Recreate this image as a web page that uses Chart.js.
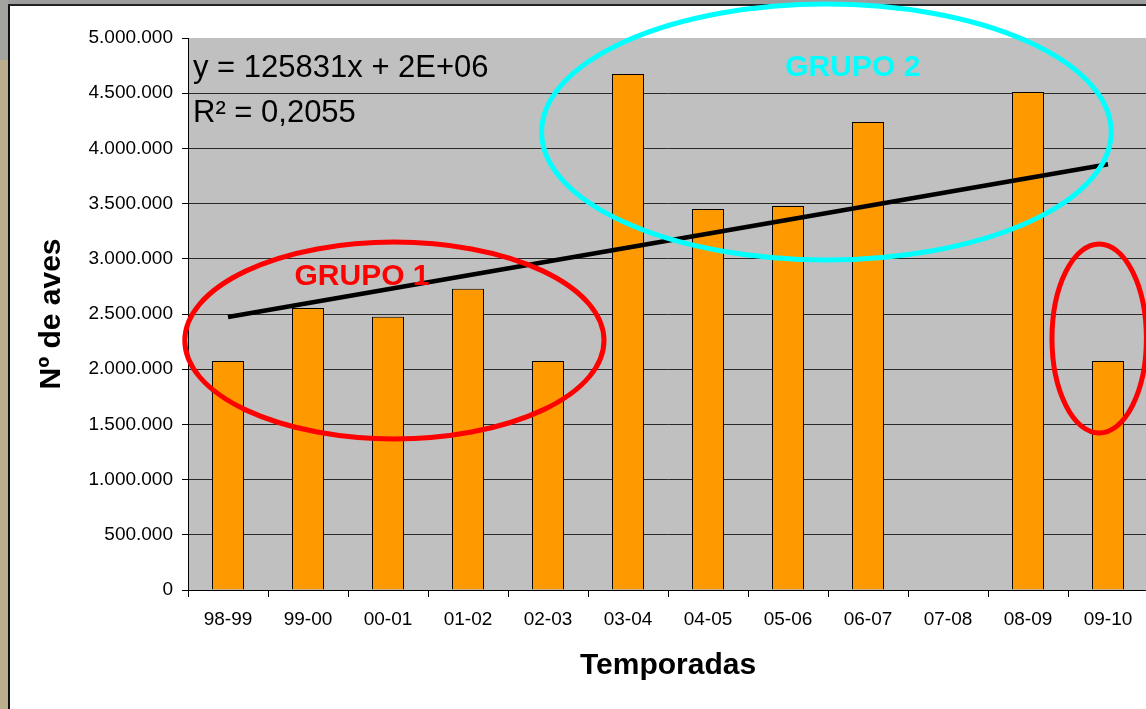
<!DOCTYPE html>
<html>
<head>
<meta charset="utf-8">
<script src="https://cdn.jsdelivr.net/npm/chart.js@4/dist/chart.umd.min.js"></script>
<style>
  html, body { margin: 0; padding: 0; width: 1146px; height: 709px; overflow: hidden; }
  body { background: #bcae8c; position: relative; }
  #topstrip { position: absolute; left: 0; top: 0; width: 1146px; height: 5px; background: #9d9d9d; }
  #leftstrip { position: absolute; left: 0; top: 0; width: 8px; height: 60px; background: #a3a3a0; }
  #frame { position: absolute; left: 8px; top: 4px; width: 1200px; height: 800px; background: #ffffff;
           border-left: 2px solid #111; border-top: 2px solid #222; }
  #wrap { position: absolute; left: 0; top: 0; width: 1150px; height: 709px; }
</style>
</head>
<body>
<div id="topstrip"></div>
<div id="leftstrip"></div>
<div id="frame"></div>
<div id="wrap"><canvas id="c" width="1150" height="709"></canvas></div>
<script>
// ---- data ----
const temporadas = ['98-99','99-00','00-01','01-02','02-03','03-04','04-05','05-06','06-07','07-08','08-09','09-10'];
const nAves = [2075000, 2555000, 2475000, 2728000, 2075000, 4675000, 3452000, 3478000, 4240000, null, 4512000, 2075000];
// linear trend line endpoints (first and last season)
const tendencia = [2473000, null, null, null, null, null, null, null, null, null, null, 3857000];
const yTicksMax = 5000000;
const yTicksStep = 500000;
const ecuacion = 'y = 125831x + 2E+06';
const r2Texto = 'R² = 0,2055';
const xTitulo = 'Temporadas';
const yTitulo = 'Nº de aves';

// decorations (ellipses & group labels) anchored in data units: category index / value
const elipses = [
  { cx: 2.08, cy: 2260000, rx: 2.62, ry: 892000, color: '#ff0000' },
  { cx: 7.48, cy: 4149000, rx: 3.56, ry: 1159000, color: '#00ffff' },
  { cx: 10.89, cy: 2278000, rx: 0.59, ry: 856000, color: '#ff0000' }
];
const grupos = [
  { text: 'GRUPO 1', x: 1.675, y: 2763000, color: '#ff0000' },
  { text: 'GRUPO 2', x: 7.81, y: 4656000, color: '#00ffff' }
];

const FONT = "'Liberation Sans', Arial, sans-serif";

function fmt(v) {
  return String(Math.round(v)).replace(/\B(?=(\d{3})+(?!\d))/g, '.');
}

const plotBg = {
  id: 'plotBg',
  beforeDraw(chart) {
    const { ctx, chartArea: a } = chart;
    ctx.save();
    ctx.fillStyle = '#c0c0c0';
    ctx.fillRect(a.left, a.top, a.right - a.left, a.bottom - a.top);
    ctx.restore();
  }
};

function xPix(chart, idx) {
  const xs = chart.scales.x;
  const p0 = xs.getPixelForValue(0), p1 = xs.getPixelForValue(1);
  return p0 + idx * (p1 - p0);
}

const decor = {
  id: 'decor',
  afterDraw(chart) {
    const { ctx, chartArea: a } = chart;
    const ys = chart.scales.y;
    const step = xPix(chart, 1) - xPix(chart, 0);
    ctx.save();
    // ellipses
    elipses.forEach(e => {
      const cx = xPix(chart, e.cx);
      const cy = ys.getPixelForValue(e.cy);
      const rx = e.rx * step;
      const ry = Math.abs(ys.getPixelForValue(e.cy + e.ry) - cy);
      ctx.beginPath();
      ctx.ellipse(cx, cy, rx, ry, 0, 0, Math.PI * 2);
      ctx.strokeStyle = e.color;
      ctx.lineWidth = 5;
      ctx.stroke();
    });
    // group labels
    ctx.font = 'bold 30px ' + FONT;
    ctx.textAlign = 'center';
    ctx.textBaseline = 'alphabetic';
    grupos.forEach(g => {
      ctx.fillStyle = g.color;
      ctx.fillText(g.text, xPix(chart, g.x), ys.getPixelForValue(g.y));
    });
    // trend equation
    ctx.fillStyle = '#000';
    ctx.textAlign = 'left';
    ctx.font = '31px ' + FONT;
    ctx.fillText(ecuacion, a.left + 5, a.top + 39);
    ctx.fillText(r2Texto, a.left + 5, a.top + 84);
    ctx.restore();
  }
};

new Chart(document.getElementById('c'), {
  type: 'bar',
  data: {
    labels: temporadas,
    datasets: [
      {
        type: 'line',
        data: tendencia,
        spanGaps: true,
        borderColor: '#000000',
        borderWidth: 4.5,
        pointRadius: 0,
        fill: false,
        order: 0
      },
      {
        type: 'bar',
        data: nAves,
        backgroundColor: '#ff9900',
        borderColor: '#000000',
        borderWidth: 1,
        barPercentage: 0.4,
        categoryPercentage: 1,
        order: 1
      }
    ]
  },
  options: {
    responsive: false,
    animation: false,
    events: [],
    layout: { padding: { left: 30, top: 38, right: 2, bottom: 0 } },
    plugins: { legend: { display: false }, tooltip: { enabled: false } },
    scales: {
      x: {
        offset: true,
        grid: { display: true, drawOnChartArea: false, drawTicks: true, tickLength: 7, color: '#000', offset: true },
        border: { display: true, color: '#000', width: 1 },
        ticks: { color: '#000', font: { family: FONT, size: 19 }, padding: 11, maxRotation: 0, autoSkip: false },
        title: { display: true, text: xTitulo, color: '#000', font: { family: FONT, size: 30, weight: 'bold' }, padding: { top: 4, bottom: 25 } },
        afterFit(s) { s.height = 119; }
      },
      y: {
        min: 0,
        max: yTicksMax,
        grid: {
          color: (c) => (c.tick && c.tick.value === yTicksMax) ? 'rgba(0,0,0,0)' : '#2a2a2a',
          tickColor: '#000',
          tickLength: 6,
          lineWidth: 1
        },
        border: { display: true, color: '#000', width: 1 },
        ticks: { stepSize: yTicksStep, color: '#000', font: { family: FONT, size: 19 }, padding: 9, callback: (v) => fmt(v) },
        title: { display: true, text: yTitulo, color: '#000', font: { family: FONT, size: 30, weight: 'bold' }, padding: { top: 4, bottom: 4 } },
        afterFit(s) { s.width = 158; }
      }
    }
  },
  plugins: [plotBg, decor]
});
</script>
</body>
</html>
